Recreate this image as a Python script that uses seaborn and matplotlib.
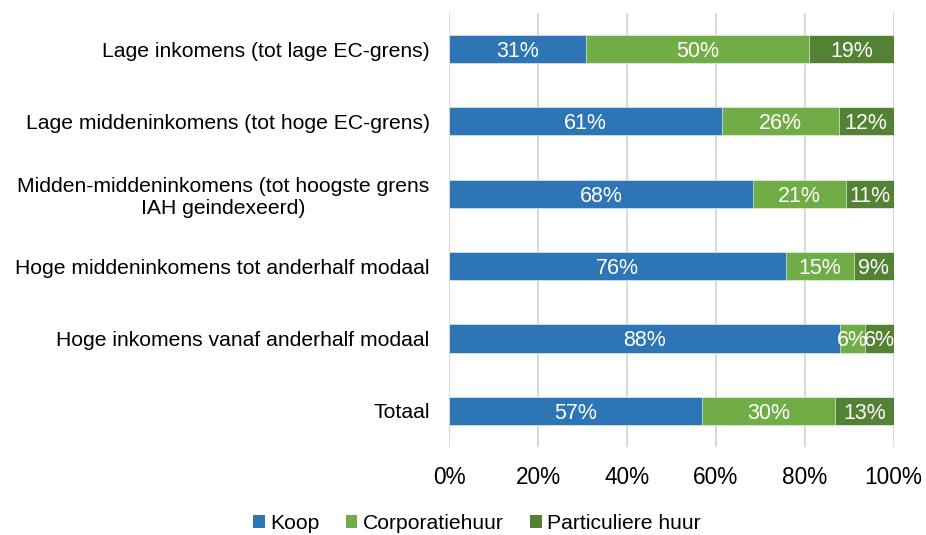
import numpy as np
import pandas as pd
import matplotlib
matplotlib.use("Agg")
import matplotlib.pyplot as plt
import seaborn as sns
from matplotlib.patches import Patch

# DATA
categories = ["Lage inkomens (tot lage EC-grens)",
              "Lage middeninkomens (tot hoge EC-grens)",
              "Midden-middeninkomens (tot hoogste grens\nIAH geindexeerd)",
              "Hoge middeninkomens tot anderhalf modaal",
              "Hoge inkomens vanaf anderhalf modaal",
              "Totaal"]
koop = [30.9, 61.4, 68.3, 75.8, 88.0, 56.9]
corporatie = [50.1, 26.3, 20.9, 15.2, 5.6, 29.9]
particulier = [19.0, 12.3, 10.8, 9.0, 6.4, 13.2]
series_names = ["Koop", "Corporatiehuur", "Particuliere huur"]
colors = ["#2E75B6", "#70AD47", "#548235"]
x_ticks = [0, 20, 40, 60, 80, 100]

df = pd.DataFrame({"cat": categories, "Koop": koop,
                   "Corporatiehuur": corporatie, "Particuliere huur": particulier})
df["cum1"] = df["Koop"]
df["cum2"] = df["cum1"] + df["Corporatiehuur"]
df["cum3"] = df["cum2"] + df["Particuliere huur"]

sns.set_style("white")
plt.rcParams["font.family"] = ["Liberation Sans", "DejaVu Sans"]
plt.rcParams["text.color"] = "black"
plt.rcParams["xtick.color"] = "black"
plt.rcParams["ytick.color"] = "black"

fig = plt.figure(figsize=(9.26, 5.35), dpi=100)
ax = fig.add_axes([0.485, 0.1645, 0.48, 0.8115])

# stacked bars: draw the cumulative totals back to front
for col, c in zip(["cum3", "cum2", "cum1"], colors[::-1]):
    sns.barplot(data=df, x=col, y="cat", orient="h", color=c, width=0.39,
                saturation=1, ax=ax, zorder=3, edgecolor="white", linewidth=0.4)

# value labels
for i, row in df.iterrows():
    left = 0
    for name in series_names:
        v = row[name]
        ax.text(left + v / 2, i, "%d%%" % round(v), ha="center", va="center_baseline",
                color="white", fontsize=15.5, zorder=4)
        left += v

ax.set_xlim(0, 100)
ax.set_ylim(5.5, -0.5)
ax.set_xticks(x_ticks)
ax.set_xticklabels(["%d%%" % t for t in x_ticks], fontsize=16.3)
ax.tick_params(axis="x", length=0, pad=14, labelcolor="black")
ax.tick_params(axis="y", length=0, pad=14, labelsize=15.2, labelcolor="black")
for lab in ax.get_yticklabels():
    lab.set_multialignment("center")
ax.set_xlabel("")
ax.set_ylabel("")
ax.grid(axis="x", color="#D9D9D9", linewidth=1.5, zorder=0)
for s in ax.spines.values():
    s.set_visible(False)

handles = [Patch(facecolor=c, edgecolor="none") for c in colors]
fig.legend(handles, series_names, loc="center", bbox_to_anchor=(0.515, 0.021),
           ncol=3, frameon=False, fontsize=15.2, handlelength=0.55, handleheight=0.55,
           handletextpad=0.25, columnspacing=1.25, labelcolor="black")

fig.savefig("out.png", dpi=100)
